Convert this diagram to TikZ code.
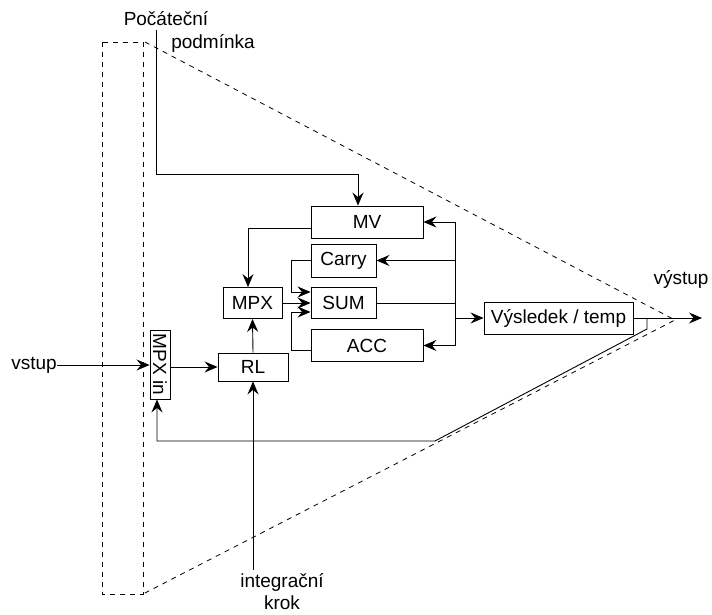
\documentclass[tikz,border=0pt]{standalone}
\usepackage{fontspec}
\setmainfont{Liberation Sans}
\usetikzlibrary{arrows.meta}
\begin{document}
\begin{tikzpicture}[x=1pt,y=-1pt,
  line width=0.9pt,
  font=\fontsize{19}{22}\selectfont,
  box/.style={draw,inner sep=0pt,minimum width=#1},
  arr/.style={-{Stealth[length=13pt,width=11pt,inset=4.5pt]}},
  dsh/.style={dash pattern=on 5pt off 5pt,line width=0.8pt},
  lbl/.style={inner sep=0pt}]
\useasboundingbox (0,0) rectangle (712,615);
% dashed outline
\draw[dsh] (102,42) rectangle (143,594);
\draw[dsh] (145,42) -- (675,320) -- (143,594);
% boxes
\node[box=112pt,minimum height=32pt] (MV) at (367,222) {MV};
\node[box=65pt,minimum height=33pt] (Carry) at (343.5,260.5) {Carry};
\node[box=65pt,minimum height=31pt] (SUM) at (343.5,303) {SUM};
\node[box=112pt,minimum height=32pt] (ACC) at (367,345.5) {ACC};
\node[box=59pt,minimum height=31pt] (MPX) at (252.5,303) {MPX};
\node[box=70pt,minimum height=28pt] (RL) at (253,367) {RL};
\node[box=69pt,minimum height=20pt,rotate=-90] (MPXin) at (160,364.5) {MPX in};
\node[box=149pt,minimum height=32pt] (Vys) at (558.5,318) {Výsledek / temp};
% labels
\node[lbl] (pc1) at (166,19) {Počáteční};
\node[lbl] (pc2) at (213,43) {podmínka};
\node[lbl] (vstup) at (34,365) {vstup};
\node[lbl] (vystup) at (681,279) {výstup};
\node[lbl] (ik1) at (282,582) {integrační};
\node[lbl] (ik2) at (282,603) {krok};
% coordinates
\coordinate (pc) at (156,30);
\coordinate (J) at (455,318);
\coordinate (out) at (702,318);
\coordinate (fb) at (647,318);
\coordinate (ik) at (253,570);
% connectors
\draw[arr] (pc) |- (358,174) -- ([xshift=-9pt]MV.north);
\draw[arr] ([yshift=-6pt]MV.west) -| ([xshift=-4.5pt]MPX.north);
\draw[arr] (Carry.west) -| (291,292) -- ([yshift=11pt]SUM.west);
\draw[arr] (MPX.east) -- (SUM.west);
\draw[arr] ([yshift=-4.5pt]ACC.west) -| (291,312) -- ([yshift=-9pt]SUM.west);
\draw (SUM.east) -- (SUM.east -| J);
\draw (J |- MV.east) -- (J |- ACC.east);
\draw[arr] (J |- MV.east) -- (MV.east);
\draw[arr] (J |- Carry.east) -- (Carry.east);
\draw[arr] (J |- ACC.east) -- (ACC.east);
\draw[arr] (J) -- (Vys.west);
\draw[arr] (Vys.east) -- (out);
\draw[arr] (fb) -- (647,329) -- (435,441) -- (157,441) -- ([xshift=-3pt]MPXin.east);
\draw[arr] (vstup.east) -- (vstup.east -| MPXin.south);
\draw[arr] (MPXin.north |- RL.west) -- (RL.west);
\draw[arr] (RL.north) -- (MPX.south);
\draw[arr] (ik) -- (RL.south);
\end{tikzpicture}
\end{document}
